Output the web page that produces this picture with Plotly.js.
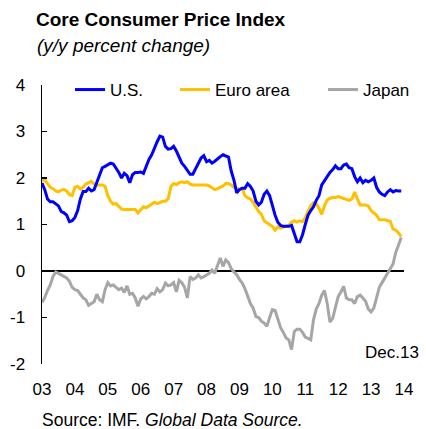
<!DOCTYPE html>
<html>
<head>
<meta charset="utf-8">
<script src="https://cdn.plot.ly/plotly-3.0.1.min.js"></script>
<style>html,body{margin:0;padding:0;background:#fff}#chart{width:426px;height:429px}</style>
</head>
<body>
<div id="chart"></div>
<script>
// Monthly data, Jan 2003 - Dec 2013 (y/y percent change)
const startYear = 2003;
const tickYears = [2003, 2004, 2005, 2006, 2007, 2008, 2009, 2010, 2011, 2012, 2013, 2014];
const tickLabels = ['03', '04', '05', '06', '07', '08', '09', '10', '11', '12', '13', '14'];
const yTickVals = [-2, -1, 0, 1, 2, 3, 4];
const yTickLabels = ['-2', '-1', '0', '1', '2', '3', '4'];
const seriesNames = ['U.S.', 'Euro area', 'Japan'];

const usCore = [
  1.89, 1.75, 1.55, 1.49, 1.49, 1.45, 1.40, 1.28, 1.25, 1.20, 1.06, 1.08,
  1.15, 1.30, 1.55, 1.71, 1.71, 1.78, 1.72, 1.75, 1.90, 2.05, 2.22, 2.25,
  2.28, 2.32, 2.30, 2.22, 2.12, 2.00, 2.10, 2.05, 1.90, 2.07, 2.12, 2.12,
  2.13, 2.10, 2.25, 2.40, 2.50, 2.65, 2.78, 2.90, 2.88, 2.68, 2.62, 2.63,
  2.68, 2.58, 2.45, 2.32, 2.25, 2.15, 2.08, 2.08, 2.20, 2.30, 2.43, 2.48,
  2.35, 2.38, 2.32, 2.36, 2.42, 2.46, 2.50, 2.48, 2.45, 2.15, 1.95, 1.68,
  1.75, 1.78, 1.78, 1.88, 1.82, 1.72, 1.50, 1.42, 1.48, 1.65, 1.72, 1.62,
  1.40, 1.20, 1.05, 0.98, 0.96, 0.96, 0.96, 0.98, 0.80, 0.63, 0.63, 0.78,
  1.00, 1.20, 1.30, 1.38, 1.52, 1.62, 1.85, 1.95, 2.05, 2.12, 2.18, 2.26,
  2.20, 2.20, 2.28, 2.30, 2.22, 2.20, 2.03, 1.92, 2.00, 1.90, 1.95, 1.92,
  1.95, 2.00, 1.80, 1.70, 1.65, 1.62, 1.70, 1.75, 1.70, 1.73, 1.72, 1.72
];

const euroCore = [
  1.95, 1.96, 1.88, 1.80, 1.77, 1.72, 1.70, 1.74, 1.75, 1.72, 1.64, 1.62,
  1.80, 1.82, 1.76, 1.80, 1.87, 1.90, 1.93, 1.87, 1.85, 1.85, 1.85, 1.82,
  1.62, 1.50, 1.44, 1.45, 1.40, 1.33, 1.32, 1.32, 1.33, 1.32, 1.32, 1.25,
  1.32, 1.38, 1.36, 1.40, 1.43, 1.48, 1.45, 1.47, 1.50, 1.50, 1.55, 1.82,
  1.88, 1.86, 1.90, 1.92, 1.90, 1.92, 1.87, 1.85, 1.85, 1.85, 1.85, 1.85,
  1.85, 1.83, 1.78, 1.75, 1.77, 1.80, 1.83, 1.88, 1.88, 1.85, 1.80, 1.78,
  1.75, 1.78, 1.62, 1.57, 1.55, 1.47, 1.38, 1.28, 1.22, 1.08, 1.04, 0.99,
  0.96, 0.88, 0.95, 0.92, 0.94, 0.95, 0.98, 1.05, 1.08, 1.05, 1.08, 1.06,
  1.15, 1.28, 1.40, 1.47, 1.45, 1.35, 1.22, 1.40, 1.53, 1.56, 1.58, 1.58,
  1.60, 1.58, 1.56, 1.55, 1.52, 1.55, 1.70, 1.55, 1.42, 1.42, 1.42, 1.40,
  1.30, 1.25, 1.20, 1.10, 1.10, 1.10, 1.08, 1.07, 0.90, 0.88, 0.82, 0.74
];

const japanCore = [
  -0.68, -0.57, -0.42, -0.30, -0.12, -0.02, -0.05, -0.08, -0.12, -0.15, -0.22, -0.35,
  -0.40, -0.42, -0.50, -0.58, -0.62, -0.74, -0.70, -0.66, -0.50, -0.62, -0.66, -0.40,
  -0.25, -0.32, -0.30, -0.36, -0.40, -0.37, -0.46, -0.32, -0.50, -0.48, -0.58, -0.76,
  -0.60, -0.55, -0.60, -0.55, -0.48, -0.50, -0.38, -0.45, -0.40, -0.26, -0.32, -0.30,
  -0.25, -0.45, -0.20, -0.25, -0.35, -0.58, -0.12, -0.18, -0.15, -0.08, -0.15, -0.12,
  -0.08, -0.05, 0.02, -0.05, 0.12, 0.28, 0.10, 0.24, 0.18, 0.05, -0.02, -0.08,
  -0.18, -0.26, -0.38, -0.55, -0.70, -0.80, -0.98, -1.00, -1.08, -1.12, -1.19, -1.00,
  -0.83, -0.85, -1.05, -1.22, -1.32, -1.44, -1.48, -1.69, -1.30, -1.25, -1.25, -1.32,
  -1.42, -1.45, -1.48, -1.05, -0.82, -0.70, -0.52, -0.42, -0.70, -1.10, -1.02, -0.78,
  -0.55, -0.45, -0.33, -0.58, -0.62, -0.62, -0.70, -0.55, -0.52, -0.58, -0.65, -0.82,
  -0.88, -0.80, -0.55, -0.35, -0.25, -0.15, -0.08, 0.03, 0.15, 0.40, 0.55, 0.72
];

const xMonths = usCore.map((_, i) => startYear + i / 12);
const W = 426, H = 429;
const L = 42, R = 22, T = 85, B = 65;
const PW = W - L - R, PH = H - T - B;
const font = 'Liberation Sans, Arial, sans-serif';
// pixel -> paper helpers for text placement
const px = (v) => (v - L) / PW;
const py = (v) => (H - B - v) / PH;

function trace(y, name, color, legendId) {
  return {
    x: xMonths, y: y, name: name, type: 'scatter', mode: 'lines',
    line: { color: color, width: 3 }, legend: legendId, showlegend: true,
    hoverinfo: 'x+y+name'
  };
}

const data = [
  trace(japanCore, seriesNames[2], '#A6A6A6', 'legend3'),
  trace(euroCore, seriesNames[1], '#FFC000', 'legend2'),
  trace(usCore, seriesNames[0], '#0000FF', 'legend')
];

function legendAt(xpix) {
  return {
    x: px(xpix), xref: 'paper', xanchor: 'left',
    y: py(90), yref: 'paper', yanchor: 'middle',
    orientation: 'h', bgcolor: 'rgba(0,0,0,0)', borderwidth: 0,
    font: { family: font, size: 17, color: '#000' }
  };
}

const layout = {
  width: W, height: H,
  margin: { l: L, r: R, t: T, b: B, autoexpand: false },
  paper_bgcolor: '#fff', plot_bgcolor: '#fff',
  font: { family: font, size: 17, color: '#000' },
  title: {
    text: '<b>Core Consumer Price Index</b>',
    x: 36 / W, xref: 'container', xanchor: 'left',
    y: 1 - 19 / H, yref: 'container', yanchor: 'middle',
    font: { family: font, size: 19, color: '#000' }
  },
  xaxis: {
    range: [2003, 2014], tickvals: tickYears, ticktext: tickLabels,
    showline: false, ticks: '', showgrid: false, zeroline: false,
    ticklabelstandoff: 13, automargin: false,
    tickfont: { family: font, size: 17, color: '#000' }
  },
  yaxis: {
    range: [-2, 4], tickvals: yTickVals, ticktext: yTickLabels,
    showline: true, linecolor: '#000', linewidth: 1.5,
    ticks: 'inside', ticklen: 5, tickwidth: 1.5, tickcolor: '#000',
    showgrid: false, zeroline: true, zerolinecolor: '#000', zerolinewidth: 1.5,
    ticklabelstandoff: 12, automargin: false,
    tickfont: { family: font, size: 17, color: '#000' }
  },
  legend: legendAt(70),
  legend2: legendAt(175),
  legend3: legendAt(323),
  annotations: [
    {
      text: '<i>(y/y percent change)</i>', xref: 'paper', yref: 'paper',
      x: px(35), xanchor: 'left', y: py(45.5), yanchor: 'middle',
      showarrow: false, font: { family: font, size: 19, color: '#000' }
    },
    {
      text: 'Dec.13', xref: 'paper', yref: 'paper',
      x: px(421), xanchor: 'right', y: py(352), yanchor: 'middle',
      showarrow: false, font: { family: font, size: 17, color: '#000' }
    },
    {
      text: 'Source: IMF. <i>Global Data Source.</i>', xref: 'paper', yref: 'paper',
      x: px(41), xanchor: 'left', y: py(419.5), yanchor: 'middle', borderpad: 0,
      showarrow: false, font: { family: font, size: 17.5, color: '#000' }
    }
  ]
};

Plotly.newPlot('chart', data, layout, { displayModeBar: false, staticPlot: true });
</script>
</body>
</html>
